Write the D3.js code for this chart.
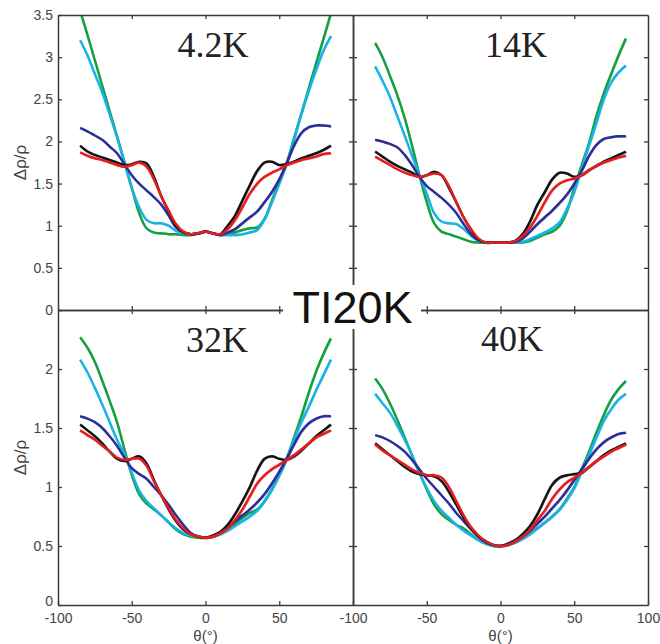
<!DOCTYPE html>
<html>
<head>
<meta charset="utf-8">
<script src="https://cdn.jsdelivr.net/npm/d3@7"></script>
<style>
body { margin: 0; background: #fff; }
svg { display: block; }
</style>
</head>
<body>
<div id="chart"></div>
<script>
// angle samples (deg) shared by every curve
var theta = [-85,-80,-75,-70,-65,-60,-55,-50,-45,-40,-35,-30,-25,-20,-15,-10,-5,0,5,10,15,20,25,30,35,40,45,50,55,60,65,70,75,80,85];

// 4.2K
var green42 = [3.55,3.26,2.96,2.66,2.36,2.06,1.76,1.45,1.15,0.97,0.92,0.91,0.9,0.9,0.89,0.89,0.91,0.93,0.91,0.89,0.9,0.92,0.95,0.97,0.98,1.08,1.3,1.52,1.74,2.04,2.33,2.63,2.93,3.22,3.52];
var cyan42  = [3.2,3.02,2.8,2.58,2.32,2.05,1.75,1.45,1.22,1.07,1.03,1.03,1.0,0.94,0.91,0.9,0.91,0.93,0.91,0.89,0.89,0.89,0.9,0.92,0.95,1.08,1.28,1.5,1.74,2.02,2.33,2.6,2.85,3.08,3.25];
var blue42  = [2.16,2.12,2.07,2.02,1.94,1.86,1.73,1.6,1.5,1.42,1.34,1.25,1.12,0.98,0.92,0.9,0.91,0.93,0.91,0.89,0.92,0.96,1.03,1.1,1.17,1.28,1.4,1.55,1.74,1.95,2.1,2.17,2.19,2.19,2.18];
var black42 = [1.95,1.88,1.84,1.81,1.78,1.75,1.72,1.73,1.76,1.74,1.58,1.35,1.17,1.0,0.92,0.9,0.91,0.93,0.91,0.9,1.0,1.12,1.3,1.48,1.65,1.75,1.76,1.72,1.73,1.76,1.8,1.83,1.86,1.9,1.95];
var red42   = [1.87,1.83,1.8,1.78,1.75,1.72,1.7,1.72,1.75,1.7,1.55,1.35,1.18,1.02,0.93,0.9,0.91,0.93,0.91,0.9,0.96,1.07,1.22,1.38,1.5,1.58,1.63,1.67,1.72,1.75,1.78,1.8,1.82,1.85,1.86];

// 14K
var green14 = [3.17,3.0,2.78,2.55,2.28,1.95,1.6,1.28,1.03,0.93,0.9,0.87,0.84,0.81,0.8,0.8,0.8,0.8,0.8,0.8,0.8,0.82,0.86,0.9,0.93,1.0,1.17,1.45,1.72,1.98,2.3,2.57,2.8,3.02,3.22];
var cyan14  = [2.89,2.72,2.53,2.3,2.07,1.83,1.6,1.38,1.15,1.05,1.03,1.02,0.96,0.88,0.82,0.8,0.8,0.8,0.8,0.8,0.81,0.84,0.88,0.92,0.97,1.04,1.2,1.4,1.68,1.95,2.22,2.5,2.7,2.82,2.9];
var blue14  = [2.02,2.0,1.97,1.93,1.84,1.72,1.58,1.47,1.4,1.33,1.25,1.15,1.02,0.9,0.83,0.8,0.8,0.8,0.8,0.81,0.85,0.93,1.02,1.1,1.18,1.27,1.37,1.5,1.65,1.83,1.96,2.03,2.05,2.06,2.06];
var black14 = [1.88,1.82,1.76,1.71,1.67,1.63,1.58,1.6,1.64,1.6,1.45,1.28,1.1,0.95,0.84,0.8,0.8,0.8,0.8,0.82,0.9,1.05,1.25,1.4,1.55,1.63,1.62,1.58,1.6,1.66,1.71,1.76,1.8,1.84,1.88];
var red14   = [1.82,1.77,1.72,1.67,1.63,1.6,1.58,1.6,1.62,1.6,1.47,1.28,1.1,0.96,0.85,0.8,0.8,0.8,0.8,0.82,0.88,0.98,1.12,1.28,1.42,1.5,1.54,1.56,1.6,1.66,1.71,1.75,1.78,1.81,1.83];

// 32K
var green32 = [2.27,2.18,2.06,1.9,1.73,1.55,1.32,1.1,0.94,0.86,0.81,0.76,0.7,0.64,0.6,0.58,0.57,0.57,0.58,0.6,0.64,0.69,0.74,0.78,0.81,0.88,0.98,1.1,1.24,1.42,1.6,1.8,1.98,2.13,2.26];
var cyan32  = [2.08,1.97,1.84,1.7,1.55,1.4,1.28,1.12,0.97,0.88,0.82,0.76,0.7,0.65,0.61,0.59,0.58,0.57,0.58,0.6,0.63,0.67,0.71,0.75,0.8,0.88,0.98,1.1,1.24,1.4,1.55,1.68,1.82,1.95,2.08];
var blue32  = [1.6,1.58,1.55,1.5,1.43,1.35,1.25,1.16,1.11,1.07,1.0,0.93,0.85,0.76,0.68,0.61,0.58,0.57,0.58,0.61,0.66,0.71,0.76,0.81,0.87,0.94,1.03,1.13,1.24,1.36,1.47,1.54,1.58,1.6,1.6];
var black32 = [1.53,1.48,1.43,1.37,1.3,1.24,1.22,1.24,1.26,1.2,1.06,0.93,0.81,0.71,0.64,0.6,0.58,0.57,0.59,0.62,0.68,0.77,0.88,1.0,1.14,1.24,1.26,1.24,1.23,1.26,1.31,1.37,1.43,1.48,1.53];
var red32   = [1.48,1.44,1.4,1.35,1.3,1.25,1.23,1.24,1.24,1.18,1.05,0.93,0.82,0.72,0.65,0.6,0.58,0.57,0.58,0.61,0.65,0.72,0.81,0.92,1.03,1.1,1.15,1.19,1.23,1.27,1.32,1.37,1.42,1.45,1.48];

// 40K
var green40 = [1.92,1.83,1.71,1.57,1.42,1.27,1.12,0.98,0.85,0.77,0.72,0.68,0.65,0.6,0.55,0.52,0.5,0.5,0.51,0.53,0.57,0.61,0.65,0.7,0.75,0.81,0.9,1.0,1.15,1.3,1.46,1.61,1.74,1.83,1.9];
var cyan40  = [1.79,1.71,1.63,1.52,1.4,1.27,1.12,0.99,0.88,0.8,0.74,0.68,0.63,0.59,0.55,0.52,0.5,0.5,0.51,0.53,0.56,0.6,0.65,0.7,0.75,0.81,0.89,0.99,1.13,1.27,1.42,1.56,1.66,1.74,1.79];
var blue40  = [1.44,1.42,1.39,1.35,1.3,1.23,1.15,1.07,1.0,0.93,0.86,0.78,0.71,0.64,0.58,0.53,0.51,0.5,0.51,0.54,0.58,0.63,0.69,0.75,0.82,0.89,0.97,1.06,1.15,1.24,1.32,1.38,1.42,1.45,1.46];
var black40 = [1.37,1.32,1.27,1.22,1.17,1.13,1.11,1.1,1.09,1.05,0.96,0.85,0.74,0.65,0.58,0.54,0.51,0.5,0.52,0.55,0.6,0.67,0.77,0.9,1.02,1.08,1.1,1.11,1.12,1.17,1.22,1.27,1.31,1.34,1.37];
var red40   = [1.36,1.31,1.27,1.23,1.19,1.15,1.12,1.1,1.1,1.08,1.0,0.88,0.76,0.66,0.59,0.54,0.51,0.5,0.51,0.54,0.58,0.64,0.72,0.8,0.9,0.98,1.04,1.08,1.12,1.17,1.22,1.26,1.3,1.33,1.36];

var seriesColors = ["#14a03e", "#19b2e8", "#2a2e98", "#141414", "#e51d1f"];
var xTicksLeft = [-100, -50, 0, 50];
var xTicksRight = [-100, -50, 0, 50, 100];
var yTicksTop = [0, 0.5, 1, 1.5, 2, 2.5, 3, 3.5];
var yTicksBottom = [0, 0.5, 1, 1.5, 2];

var W = 660, H = 644;
var svg = d3.select("#chart").append("svg").attr("width", W).attr("height", H);

var panels = [
  {name: "4.2K", left: 58,  right: 353, top: 15,  bottom: 310, ymax: 3.5, yt: yTicksTop, xt: null, yLabels: true,
   data: [green42, cyan42, blue42, black42, red42], lab: [213, 57]},
  {name: "14K",  left: 353, right: 648, top: 15,  bottom: 310, ymax: 3.5, yt: yTicksTop, xt: null, yLabels: false,
   data: [green14, cyan14, blue14, black14, red14], lab: [516, 57]},
  {name: "32K",  left: 58,  right: 353, top: 310, bottom: 605, ymax: 2.5, yt: yTicksBottom, xt: xTicksLeft, yLabels: true,
   data: [green32, cyan32, blue32, black32, red32], lab: [217, 352]},
  {name: "40K",  left: 353, right: 648, top: 310, bottom: 605, ymax: 2.5, yt: yTicksBottom, xt: xTicksRight, yLabels: false,
   data: [green40, cyan40, blue40, black40, red40], lab: [512, 351]}
];

var axisColor = "#3a3a3a";
var plain = function(d) { return String(d); }; // hyphen minus like the original

panels.forEach(function(p, i) {
  var x = d3.scaleLinear().domain([-100, 100]).range([p.left, p.right]);
  var y = d3.scaleLinear().domain([0, p.ymax]).range([p.bottom, p.top]);
  var inner = p.yt.filter(function(t) { return t > 0 && t < p.ymax; });

  var g = svg.append("g");

  g.append("clipPath").attr("id", "clip" + i)
    .append("rect").attr("x", p.left).attr("y", p.top)
    .attr("width", p.right - p.left).attr("height", p.bottom - p.top);

  var line = d3.line()
    .x(function(d, k) { return x(theta[k]); })
    .y(function(d) { return y(d); })
    .curve(d3.curveCatmullRom.alpha(0.5));

  var curves = g.append("g").attr("clip-path", "url(#clip" + i + ")");
  p.data.forEach(function(vals, s) {
    // faint second trace, like the sweep-back in the measurement
    curves.append("path").datum(vals)
      .attr("d", line)
      .attr("transform", "translate(0.8,0.8)")
      .attr("fill", "none")
      .attr("stroke", seriesColors[s])
      .attr("stroke-opacity", 0.45)
      .attr("stroke-width", 1.2);
    curves.append("path").datum(vals)
      .attr("d", line)
      .attr("fill", "none")
      .attr("stroke", seriesColors[s])
      .attr("stroke-width", 2.5)
      .attr("stroke-linejoin", "round");
  });

  // axes, ticks pointing inwards on all four sides
  var bottomAxis = d3.axisBottom(x).tickValues(p.xt ? p.xt : [-50, 0, 50])
    .tickSizeInner(-4).tickSizeOuter(0).tickPadding(8)
    .tickFormat(p.xt ? plain : "");
  var gb = g.append("g").attr("transform", "translate(0," + p.bottom + ")").call(bottomAxis);

  var topAxis = d3.axisTop(x).tickValues([-50, 0, 50]).tickSizeInner(-4).tickSizeOuter(0).tickFormat("");
  var gt = g.append("g").attr("transform", "translate(0," + p.top + ")").call(topAxis);

  var leftAxis = d3.axisLeft(y).tickValues(p.yLabels ? p.yt : inner)
    .tickSizeInner(-4).tickSizeOuter(0).tickPadding(5)
    .tickFormat(p.yLabels ? plain : "");
  var gl = g.append("g").attr("transform", "translate(" + p.left + ",0)").call(leftAxis);
  if (p.xt) {
    // lift the bottom "0" a little so it clears the -100 under it
    gl.selectAll(".tick text").filter(function(d) { return d === 0; }).attr("dy", "0.05em");
  }

  var rightAxis = d3.axisRight(y).tickValues(inner)
    .tickSizeInner(-4).tickSizeOuter(0).tickFormat("");
  var gr = g.append("g").attr("transform", "translate(" + p.right + ",0)").call(rightAxis);

  [gb, gt, gl, gr].forEach(function(a) {
    a.select(".domain").attr("stroke", axisColor).attr("stroke-width", 1.5);
    a.selectAll(".tick line").attr("stroke", axisColor).attr("stroke-width", 1.3);
    a.selectAll(".tick text").attr("fill", "#444")
      .style("font-family", "'Liberation Sans', Arial, sans-serif").style("font-size", "14px");
  });

  // temperature label
  g.append("text").attr("x", p.lab[0]).attr("y", p.lab[1])
    .attr("text-anchor", "middle")
    .style("font-family", "'Liberation Serif', 'Times New Roman', serif")
    .style("font-size", "36px").attr("fill", "#222")
    .text(p.name);

  if (p.yLabels) {
    g.append("text")
      .attr("transform", "translate(26," + ((p.top + p.bottom) / 2) + ") rotate(-90)")
      .attr("text-anchor", "middle")
      .style("font-family", "'Liberation Sans', Arial, sans-serif")
      .style("font-size", "17px").attr("fill", "#444")
      .text("Δρ/ρ");
  }
  if (p.xt) {
    g.append("text").attr("x", (p.left + p.right) / 2).attr("y", 641)
      .attr("text-anchor", "middle")
      .style("font-family", "'Liberation Sans', Arial, sans-serif")
      .style("font-size", "15px").attr("fill", "#444")
      .text("θ(°)");
  }
});

// big sample label sitting on the crossing of the four panels
svg.append("rect").attr("x", 283).attr("y", 285).attr("width", 138).attr("height", 44).attr("fill", "#fff");
svg.append("text").attr("x", 352.5).attr("y", 323)
  .attr("text-anchor", "middle")
  .style("font-family", "'Liberation Sans', Arial, sans-serif")
  .style("font-size", "45px").attr("fill", "#111")
  .text("TI20K");
</script>
</body>
</html>
